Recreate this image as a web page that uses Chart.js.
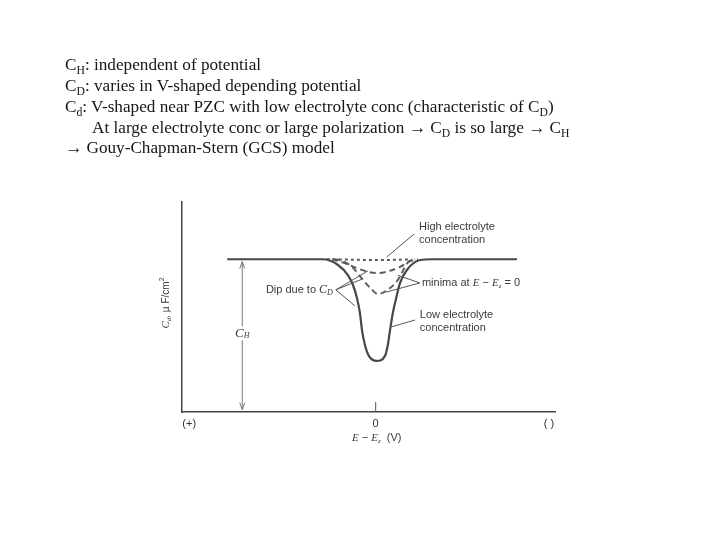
<!DOCTYPE html>
<html>
<head>
<meta charset="utf-8">
<script src="https://cdn.jsdelivr.net/npm/chart.js@4.4.1/dist/chart.umd.min.js"></script>
<style>
  body { margin: 0; background: #fff; }
  #wrap { position: relative; width: 720px; height: 540px; overflow: hidden; }
  #cd { position: absolute; left: 0; top: 0; }
  .hdr { position: absolute; font-family: 'Liberation Serif', 'Times New Roman', serif; font-size: 17.2px;
         color: #161616; white-space: nowrap; line-height: 20px; }
  .hdr sub { font-size: 0.68em; vertical-align: -0.3em; line-height: 0; }
</style>
</head>
<body>
<div id="wrap">
  <canvas id="cd" width="720" height="540"></canvas>
  <div class="hdr" style="left:65px; top:55px">C<sub>H</sub>: independent of potential</div>
  <div class="hdr" style="left:65px; top:76px">C<sub>D</sub>: varies in V-shaped depending potential</div>
  <div class="hdr" style="left:65px; top:97px">C<sub>d</sub>: V-shaped near PZC with low electrolyte conc (characteristic of C<sub>D</sub>)</div>
  <div class="hdr" style="left:92px; top:118px">At large electrolyte conc or large polarization → C<sub>D</sub> is so large → C<sub>H</sub></div>
  <div class="hdr" style="left:65px; top:138px">→ Gouy-Chapman-Stern (GCS) model</div>
</div>
<script>
// potential E - Ez (V) and capacitance Cd
var lowConcE = [-0.414, -0.147, -0.105, -0.077, -0.063, -0.052, -0.044, -0.038, -0.030, -0.019, 0.003,
                0.026, 0.034, 0.040, 0.048, 0.057, 0.068, 0.087, 0.124, 0.157, 0.394];
var lowConcC = [20, 20, 19.25, 17.9, 16.6, 14.9, 13.0, 10.7, 8.8, 7.35, 6.7,
                7.35, 8.8, 10.7, 13.0, 14.9, 16.9, 18.6, 19.9, 20, 20];

var midConcE = [-0.115, -0.100, -0.066, -0.030, -0.010, 0.006, 0.029, 0.062, 0.090, 0.110];
var midConcC = [20, 19.9, 19.0, 17.0, 16.0, 15.45, 15.85, 17.3, 19.6, 20];

var upperConcE = [-0.122, -0.086, -0.050, -0.016, 0.006, 0.040, 0.068, 0.096, 0.118];
var upperConcC = [20, 19.5, 18.8, 18.3, 18.2, 18.5, 19.0, 19.75, 20];

var highConcE = [-0.136, -0.07, 0, 0.07, 0.10];
var highConcC = [20, 19.95, 19.9, 19.95, 20];

var xTickValues = [-0.52, 0, 0.483];
var xTickLabels = ['(+)', '0', '( )'];

function pts(xs, ys) {
    var out = [];
    for (var i = 0; i < xs.length; i++) out.push({x: xs[i], y: ys[i]});
    return out;
}

var sans = "'Liberation Sans', Arial, sans-serif";
var serif = "'Liberation Serif', 'Times New Roman', serif";

// draw a run of mixed-style text pieces starting at x (or ending at x for align right)
function drawRuns(ctx, x, y, runs, align) {
    var w = 0;
    runs.forEach(function (r) { ctx.font = r.font; w += ctx.measureText(r.t).width; });
    var cx = align === 'right' ? x - w : (align === 'center' ? x - w / 2 : x);
    ctx.textBaseline = 'middle';
    ctx.textAlign = 'left';
    runs.forEach(function (r) {
        ctx.font = r.font;
        ctx.fillText(r.t, cx, y + (r.dy || 0));
        cx += ctx.measureText(r.t).width;
    });
    return w;
}

var annotations = {
    id: 'annotations',
    afterDatasetsDraw: function (chart) {
        var ctx = chart.ctx, xs = chart.scales.x, ys = chart.scales.y;
        var X = function (v) { return xs.getPixelForValue(v); };
        var Y = function (v) { return ys.getPixelForValue(v); };
        var area = chart.chartArea;
        ctx.save();
        ctx.fillStyle = '#3a3a3a';
        ctx.strokeStyle = '#555';
        ctx.lineWidth = 1;

        function line(a, b, c, d) {
            ctx.beginPath(); ctx.moveTo(X(a), Y(b)); ctx.lineTo(X(c), Y(d)); ctx.stroke();
        }

        // tick at zero, inside the plot
        ctx.beginPath();
        ctx.moveTo(X(0), area.bottom); ctx.lineTo(X(0), area.bottom - 10); ctx.stroke();

        // C_H double arrow
        var ax = X(-0.372);
        ctx.strokeStyle = '#777';
        ctx.beginPath(); ctx.moveTo(ax, Y(19.7)); ctx.lineTo(ax, Y(0.3)); ctx.stroke();
        ctx.beginPath();
        ctx.moveTo(ax - 2.5, Y(19.7) + 7); ctx.lineTo(ax, Y(19.7)); ctx.lineTo(ax + 2.5, Y(19.7) + 7);
        ctx.moveTo(ax - 2.5, Y(0.3) - 7); ctx.lineTo(ax, Y(0.3)); ctx.lineTo(ax + 2.5, Y(0.3) - 7);
        ctx.stroke();
        ctx.fillStyle = '#fff';
        ctx.fillRect(ax - 8, Y(10.3) - 7, 16, 14);
        ctx.fillStyle = '#3a3a3a';
        drawRuns(ctx, ax, Y(10.3), [
            {t: 'C', font: 'italic 13px ' + serif},
            {t: 'H', font: 'italic 8px ' + serif, dy: 3}
        ], 'center');

        ctx.strokeStyle = '#555';
        // High electrolyte concentration
        line(0.031, 20.3, 0.107, 23.3);
        drawRuns(ctx, X(0.121), Y(24.2), [{t: 'High electrolyte', font: '11px ' + sans}]);
        drawRuns(ctx, X(0.121), Y(22.5), [{t: 'concentration', font: '11px ' + sans}]);

        // Dip due to C_D
        line(-0.111, 16.0, -0.021, 18.5);
        line(-0.111, 16.0, -0.038, 17.4);
        line(-0.111, 16.0, -0.058, 13.9);
        drawRuns(ctx, X(-0.111) - 3, Y(16.0), [
            {t: 'Dip due to ', font: '11px ' + sans},
            {t: 'C', font: 'italic 12px ' + serif},
            {t: 'D', font: 'italic 8px ' + serif, dy: 3}
        ], 'right');

        // minima at E - Ez = 0
        line(0.123, 16.9, 0.062, 17.9);
        line(0.123, 16.9, 0.029, 15.7);
        drawRuns(ctx, X(0.129), Y(16.9), [
            {t: 'minima at ', font: '11px ' + sans},
            {t: 'E', font: 'italic 11px ' + serif},
            {t: ' − ', font: '11px ' + sans},
            {t: 'E', font: 'italic 11px ' + serif},
            {t: 'z', font: 'italic 7px ' + serif, dy: 3},
            {t: ' = 0', font: '11px ' + sans}
        ]);

        // Low electrolyte concentration
        line(0.040, 11.1, 0.110, 12.05);
        drawRuns(ctx, X(0.123), Y(12.7), [{t: 'Low electrolyte', font: '11px ' + sans}]);
        drawRuns(ctx, X(0.123), Y(11.0), [{t: 'concentration', font: '11px ' + sans}]);

        // x axis title
        drawRuns(ctx, X(0.003), area.bottom + 26, [
            {t: 'E', font: 'italic 11px ' + serif},
            {t: ' − ', font: '11px ' + sans},
            {t: 'E', font: 'italic 11px ' + serif},
            {t: 'z', font: 'italic 7px ' + serif, dy: 3},
            {t: '  (V)', font: '11px ' + sans}
        ], 'center');

        // y axis title, rotated
        ctx.translate(area.left - 16, (area.top + area.bottom) / 2 - 4);
        ctx.rotate(-Math.PI / 2);
        drawRuns(ctx, 0, 0, [
            {t: 'C', font: 'italic 11px ' + serif},
            {t: 'd', font: 'italic 7px ' + serif, dy: 3},
            {t: ', µ F/cm', font: '10px ' + sans},
            {t: '2', font: '7px ' + sans, dy: -4}
        ], 'center');
        ctx.restore();
    }
};

new Chart(document.getElementById('cd'), {
    type: 'line',
    data: {
        datasets: [
            {
                label: 'Low electrolyte concentration',
                data: pts(lowConcE, lowConcC),
                borderColor: '#474747',
                borderWidth: 2.2
            },
            {
                label: 'Intermediate',
                data: pts(midConcE, midConcC),
                borderColor: '#5c5c5c',
                borderWidth: 2,
                borderDash: [6, 4]
            },
            {
                label: 'Intermediate (higher)',
                data: pts(upperConcE, upperConcC),
                borderColor: '#5c5c5c',
                borderWidth: 2,
                borderDash: [6, 4]
            },
            {
                label: 'High electrolyte concentration',
                data: pts(highConcE, highConcC),
                borderColor: '#5c5c5c',
                borderWidth: 2,
                borderDash: [3, 3]
            }
        ]
    },
    options: {
        responsive: false,
        animation: false,
        layout: { padding: { left: 182, top: 202, right: 165, bottom: 104 } },
        elements: {
            point: { radius: 0 },
            line: { cubicInterpolationMode: 'monotone', fill: false }
        },
        plugins: {
            legend: { display: false },
            tooltip: { enabled: false }
        },
        scales: {
            x: {
                type: 'linear',
                min: -0.54,
                max: 0.5,
                afterFit: function (scale) { scale.height = 24; },
                afterBuildTicks: function (scale) {
                    scale.ticks = xTickValues.map(function (v) { return {value: v}; });
                },
                grid: { display: true, drawOnChartArea: false, drawTicks: false },
                border: { display: true, color: '#444', width: 1.5 },
                ticks: {
                    autoSkip: false,
                    maxRotation: 0,
                    padding: 5,
                    color: '#333',
                    font: { family: sans, size: 11 },
                    callback: function (v) {
                        var i = xTickValues.indexOf(v);
                        return i < 0 ? '' : xTickLabels[i];
                    }
                }
            },
            y: {
                type: 'linear',
                min: 0,
                max: 27.5,
                afterFit: function (scale) { scale.width = 0; },
                grid: { display: true, drawOnChartArea: false, drawTicks: false },
                border: { display: true, color: '#444', width: 1.5 },
                ticks: { display: false }
            }
        }
    },
    plugins: [annotations]
});
</script>
</body>
</html>
